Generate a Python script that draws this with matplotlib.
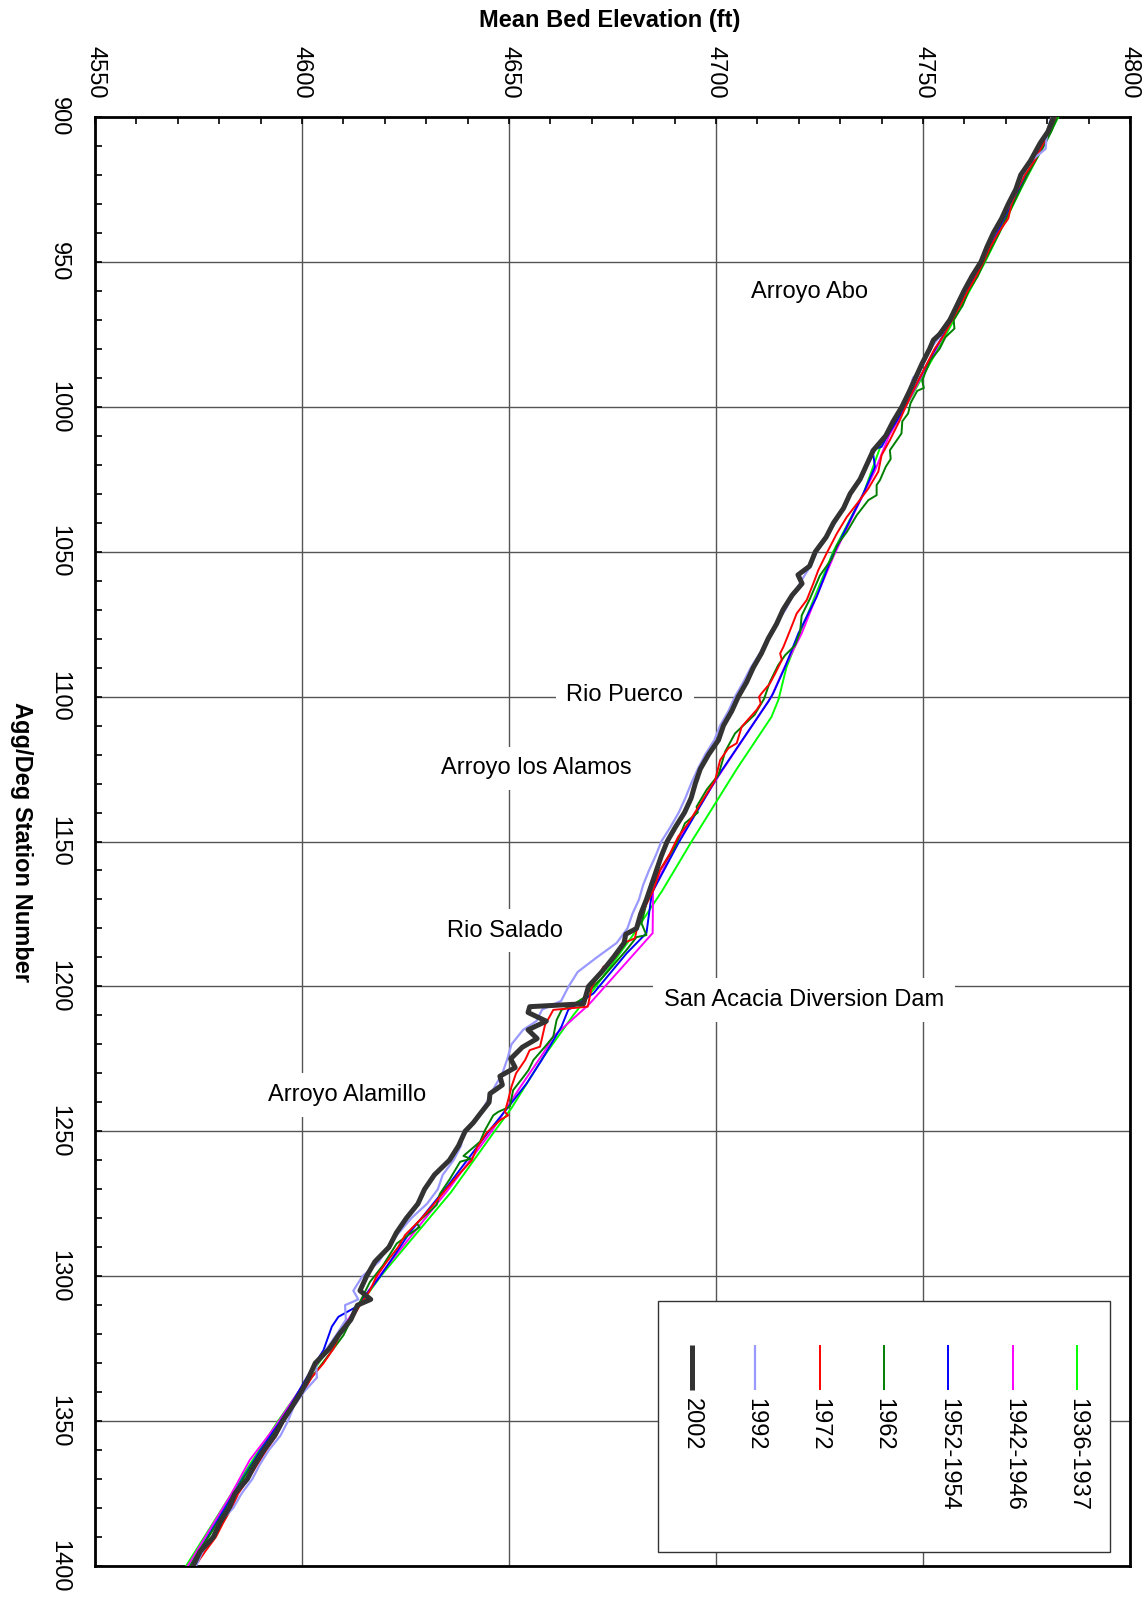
import matplotlib
matplotlib.use("Agg")
import matplotlib.pyplot as plt
from matplotlib.ticker import MultipleLocator
from matplotlib.patches import Rectangle

plt.rcParams['font.family'] = ['Liberation Sans', 'DejaVu Sans']

# ---------------- data ----------------
sta_2002 = [900, 905, 909, 915, 920, 925, 930, 935, 940, 945, 950, 955, 960, 965, 970, 975, 977, 980, 985, 990,
            995, 1000, 1005, 1010, 1015, 1020, 1025, 1030, 1035, 1040, 1045, 1050, 1055, 1058, 1061, 1065, 1070,
            1075, 1080, 1085, 1090, 1095, 1100, 1105, 1110, 1115, 1120, 1125, 1130, 1135, 1140, 1145, 1150, 1155,
            1160, 1165, 1170, 1175, 1180, 1182, 1185, 1190, 1195, 1200, 1203, 1206, 1207, 1209, 1212, 1215, 1218,
            1221, 1225, 1228, 1231, 1234, 1237, 1240, 1244, 1247, 1250, 1255, 1260, 1265, 1270, 1275, 1280, 1285,
            1290, 1295, 1300, 1305, 1308, 1310, 1315, 1320, 1325, 1330, 1335, 1340, 1345, 1350, 1355, 1360, 1365,
            1370, 1375, 1380, 1385, 1390, 1395, 1400]
elev_2002 = [4781.5, 4780.2, 4778.3, 4776.0, 4773.6, 4772.4, 4770.6, 4769.0, 4767.0, 4765.4, 4764.0, 4761.8,
             4759.9, 4758.2, 4756.5, 4754.0, 4752.5, 4751.6, 4749.8, 4748.2, 4746.6, 4744.9, 4742.8, 4741.0,
             4738.0, 4736.4, 4734.8, 4732.4, 4730.8, 4728.4, 4726.6, 4724.0, 4722.6, 4719.8, 4720.8, 4718.4,
             4716.2, 4714.6, 4712.6, 4711.0, 4709.0, 4707.4, 4705.4, 4703.8, 4701.8, 4700.6, 4698.2, 4696.2,
             4695.0, 4694.0, 4692.4, 4690.2, 4688.2, 4686.8, 4685.6, 4684.4, 4683.2, 4681.8, 4680.8, 4678.2,
             4677.8, 4675.2, 4672.4, 4669.2, 4668.6, 4668.0, 4655.0, 4654.6, 4659.0, 4654.6, 4656.8, 4653.2,
             4650.4, 4651.5, 4647.8, 4648.4, 4645.4, 4645.2, 4643.0, 4641.4, 4639.4, 4637.8, 4635.6, 4632.0,
             4629.6, 4628.0, 4625.2, 4622.8, 4621.0, 4617.6, 4615.6, 4614.0, 4616.6, 4613.4, 4611.8, 4609.0,
             4606.6, 4603.2, 4601.6, 4599.8, 4597.6, 4595.3, 4593.4, 4590.8, 4588.6, 4586.8, 4583.8, 4582.4,
             4580.2, 4578.6, 4575.4, 4573.7]

sta_1992 = [900, 905, 911, 915, 920, 925, 930, 935, 940, 945, 950, 955, 960, 965, 970, 975, 980, 985, 988, 990,
            995, 1000, 1005, 1010, 1015, 1020, 1025, 1030, 1035, 1040, 1045, 1050, 1055, 1060, 1065, 1070, 1075,
            1080, 1085, 1090, 1095, 1100, 1105, 1110, 1115, 1120, 1125, 1130, 1135, 1140, 1145, 1150, 1155, 1160,
            1165, 1170, 1175, 1180, 1185, 1190, 1195, 1200, 1205, 1208, 1212, 1215, 1220, 1225, 1230, 1235, 1240,
            1245, 1250, 1255, 1260, 1265, 1270, 1275, 1280, 1285, 1290, 1295, 1300, 1305, 1308, 1310, 1315, 1320,
            1325, 1330, 1335, 1340, 1345, 1350, 1355, 1360, 1365, 1370, 1375, 1380, 1385, 1390, 1395, 1400]
elev_1992 = [4781.0, 4780.0, 4779.6, 4776.2, 4774.0, 4772.6, 4771.0, 4769.2, 4767.4, 4765.6, 4764.2, 4762.0,
             4760.2, 4758.4, 4756.6, 4754.4, 4751.8, 4750.2, 4749.0, 4747.6, 4746.6, 4745.0, 4742.6, 4741.2,
             4738.4, 4736.6, 4735.0, 4732.6, 4730.6, 4728.8, 4726.6, 4724.4, 4722.8, 4720.6, 4718.6, 4716.8,
             4714.4, 4712.4, 4710.6, 4708.4, 4706.6, 4704.6, 4703.0, 4701.0, 4699.6, 4697.4, 4695.6, 4694.0,
             4692.6, 4691.0, 4689.0, 4686.8, 4685.4, 4683.8, 4682.4, 4681.4, 4679.8, 4678.6, 4676.0, 4671.2,
             4666.6, 4664.4, 4662.6, 4658.0, 4656.6, 4653.4, 4650.6, 4649.6, 4648.4, 4646.4, 4644.6, 4642.6,
             4639.0, 4638.4, 4636.6, 4634.0, 4632.8, 4630.2, 4626.4, 4623.4, 4620.6, 4618.6, 4614.6, 4612.4,
             4613.6, 4610.4, 4610.6, 4608.4, 4606.0, 4603.4, 4603.6, 4600.4, 4598.0, 4596.6, 4594.8, 4592.0,
             4589.8, 4588.0, 4585.4, 4583.4, 4580.0, 4578.2, 4576.0, 4574.4]

sta_1972 = [900, 910, 915, 920, 925, 930, 935, 940, 945, 950, 955, 960, 965, 970, 975, 980, 985, 990, 995, 1000,
            1004.6, 1011.5, 1016.7, 1022.4, 1028.2, 1032.8, 1038, 1043.7, 1050.6, 1056.4, 1061, 1066.7, 1071.3,
            1077.1, 1082.8, 1085.1, 1087.4, 1092, 1095.5, 1098.9, 1100.1, 1102.4, 1104.6, 1110.4, 1116.1, 1117.8,
            1121.9, 1128.8, 1133.4, 1139.1, 1143.7, 1148.3, 1154.1, 1159.8, 1166.7, 1172.5, 1178.2, 1183.4,
            1185.1, 1188.6, 1192, 1193.2, 1196.6, 1200, 1205.8, 1207, 1208.1, 1213.3, 1220.8, 1222, 1225.4, 1230,
            1234.6, 1239.2, 1243.3, 1244.5, 1246, 1250.5, 1255.8, 1260, 1265, 1270, 1275.4, 1280, 1285.8, 1290,
            1295, 1300, 1305, 1310, 1315, 1320, 1325, 1330, 1335, 1340, 1345, 1350, 1355, 1360, 1365, 1370, 1375,
            1380, 1385, 1390, 1395, 1400]
elev_1972 = [4782.0, 4778.8, 4777.0, 4774.6, 4772.8, 4771.4, 4770.6, 4768.2, 4766.2, 4764.6, 4762.8, 4760.8,
             4759.0, 4757.0, 4755.2, 4752.8, 4751.0, 4749.2, 4747.4, 4745.8, 4744.4, 4742.0, 4740.0, 4739.2,
             4736.8, 4734.4, 4731.6, 4729.2, 4726.7, 4724.7, 4723.5, 4721.9, 4719.5, 4717.9, 4716.3, 4715.5,
             4715.9, 4714.3, 4713.0, 4711.0, 4710.4, 4710.8, 4709.8, 4706.2, 4705.0, 4703.0, 4701.0, 4699.8,
             4697.8, 4695.3, 4693.3, 4690.9, 4688.9, 4686.5, 4684.9, 4682.9, 4681.2, 4680.4, 4677.6, 4676.4,
             4674.4, 4672.8, 4671.6, 4670.0, 4669.2, 4669.0, 4660.7, 4658.7, 4657.5, 4655.0, 4653.9, 4651.7,
             4650.6, 4649.8, 4649.0, 4649.8, 4648.0, 4644.6, 4642.2, 4641.0, 4637.8, 4634.8, 4631.7, 4628.9,
             4624.9, 4623.2, 4620.5, 4618.0, 4616.4, 4614.0, 4612.0, 4609.2, 4607.6, 4605.2, 4602.3, 4600.3,
             4597.9, 4595.6, 4593.8, 4591.4, 4589.2, 4587.0, 4584.6, 4583.0, 4581.0, 4579.2, 4576.6, 4574.2]

sta_1962 = [900, 905, 910, 920, 930, 940, 950, 955, 960, 965, 970, 973, 976, 980, 984, 988, 991, 993.5, 994.5,
            998.7, 1002.3, 1005, 1009.2, 1015, 1018, 1020.7, 1025.3, 1027, 1030.5, 1032.2, 1037.4, 1043.2, 1047.8,
            1052.4, 1058.2, 1066.2, 1072, 1077.7, 1082.3, 1085.7, 1089.2, 1095, 1100.8, 1106.3, 1112.7, 1119,
            1127, 1132, 1138, 1140, 1143.7, 1151.8, 1159.8, 1168.5, 1178.2, 1182.3, 1183, 1187.4, 1192, 1196.6,
            1200, 1204, 1207, 1208.1, 1211.6, 1217.3, 1220.8, 1225.4, 1228.9, 1231.2, 1235.8, 1241.5, 1243.3,
            1244.5, 1249.6, 1253.6, 1258.5, 1259.5, 1260.5, 1266.5, 1271.6, 1275.4, 1281.8, 1283, 1288.7, 1296.2,
            1302, 1308.9, 1314.7, 1320.4, 1327.3, 1334.2, 1342.2, 1349.1, 1355, 1360, 1365, 1370, 1375, 1380,
            1385, 1390, 1395, 1400]
elev_1962 = [4782.5, 4781.0, 4779.2, 4775.2, 4771.8, 4768.4, 4764.8, 4763.2, 4761.0, 4759.6, 4757.4, 4757.6,
             4755.4, 4754.0, 4751.8, 4750.6, 4749.8, 4750.2, 4748.6, 4747.0, 4746.4, 4745.0, 4744.8, 4742.0,
             4742.2, 4741.0, 4739.6, 4738.8, 4738.8, 4736.8, 4734.0, 4731.6, 4729.2, 4728.0, 4725.1, 4722.7,
             4720.7, 4720.3, 4719.1, 4716.7, 4715.0, 4713.0, 4711.6, 4709.3, 4704.6, 4702.2, 4700.6, 4697.8,
             4695.3, 4695.6, 4692.5, 4690.1, 4686.5, 4683.7, 4682.0, 4683.2, 4680.8, 4678.4, 4675.6, 4672.8,
             4670.4, 4668.0, 4664.7, 4662.7, 4661.5, 4660.7, 4658.7, 4655.9, 4654.7, 4653.5, 4651.0, 4650.2,
             4647.4, 4646.2, 4644.2, 4643.0, 4639.0, 4640.8, 4638.2, 4635.7, 4633.3, 4632.5, 4627.7, 4628.4,
             4622.9, 4619.6, 4616.4, 4614.0, 4612.0, 4610.0, 4606.4, 4602.7, 4598.7, 4595.5, 4592.8, 4590.4,
             4588.0, 4585.8, 4583.6, 4581.8, 4579.6, 4577.4, 4575.0, 4573.0]

sta_1952 = [900, 910, 920, 930, 940, 950, 960, 970, 980, 990, 1000, 1005, 1010, 1013.8, 1014.9, 1016.7, 1020.7,
            1029.9, 1041.4, 1051.8, 1065.6, 1078.2, 1089.7, 1098.9, 1101.8, 1128, 1150.6, 1167.8, 1181.6, 1188.6,
            1202.4, 1208.1, 1213.8, 1225.4, 1233.4, 1241.5, 1249.5, 1267.9, 1285, 1300.2, 1310.5, 1314, 1317.4,
            1325.5, 1331.2, 1337, 1345, 1350, 1360, 1370, 1380, 1390, 1400]
elev_1952 = [4782.2, 4778.8, 4775.0, 4771.4, 4767.8, 4764.4, 4760.6, 4757.0, 4753.0, 4749.2, 4745.6, 4743.6,
             4741.4, 4740.0, 4737.6, 4738.0, 4738.4, 4735.6, 4731.6, 4728.0, 4724.3, 4719.9, 4716.7, 4713.8,
             4712.6, 4700.2, 4690.9, 4684.5, 4683.2, 4678.4, 4670.4, 4664.3, 4662.7, 4657.9, 4654.3, 4649.9,
             4645.4, 4635.7, 4626.0, 4618.8, 4613.2, 4608.8, 4607.2, 4605.2, 4602.7, 4600.3, 4597.1, 4594.8,
             4590.0, 4585.6, 4581.4, 4577.2, 4573.0]

sta_1942 = [900, 910, 920, 930, 940, 950, 960, 970, 980, 990, 1000, 1010, 1022, 1036, 1050.6, 1066.7, 1078.2,
            1089.7, 1100, 1127, 1150.6, 1166.7, 1181.6, 1206.4, 1217.3, 1223, 1235, 1250, 1270, 1300, 1320, 1335,
            1352, 1363.4, 1376, 1400]
elev_1942 = [4782.4, 4778.8, 4775.2, 4771.6, 4767.8, 4764.6, 4760.8, 4757.0, 4753.2, 4749.4, 4745.8, 4741.8,
             4738.4, 4733.6, 4728.7, 4723.9, 4720.7, 4716.6, 4713.4, 4700.8, 4690.4, 4684.8, 4684.7, 4669.2,
             4660.7, 4658.3, 4652.6, 4645.8, 4635.4, 4618.6, 4608.6, 4601.4, 4593.5, 4587.4, 4582.6, 4572.4]

sta_1936 = [900, 925, 950, 975, 1000, 1012.6, 1030, 1050, 1078, 1090, 1101, 1107, 1125, 1150, 1167, 1183, 1200,
            1210, 1225, 1242, 1250, 1271, 1300, 1321, 1336, 1350, 1365, 1400]
elev_1936 = [4782.7, 4773.6, 4765.0, 4755.6, 4745.8, 4740.0, 4735.6, 4728.3, 4720.3, 4717.0, 4715.1, 4713.4,
             4705.0, 4694.1, 4687.0, 4679.6, 4671.0, 4665.5, 4658.0, 4650.6, 4646.5, 4636.0, 4619.0, 4608.4,
             4601.1, 4594.2, 4587.4, 4572.0]

series = [
    ("2002", sta_2002, elev_2002, "#333333", 3.6),
    ("1992", sta_1992, elev_1992, "#9999ff", 1.6),
    ("1972", sta_1972, elev_1972, "#ff0000", 1.4),
    ("1962", sta_1962, elev_1962, "#008000", 1.4),
    ("1952-1954", sta_1952, elev_1952, "#0000ff", 1.4),
    ("1942-1946", sta_1942, elev_1942, "#ff00ff", 1.4),
    ("1936-1937", sta_1936, elev_1936, "#00ff00", 1.4),
]

annot_text = ["Arroyo Abo", "Rio Puerco", "Arroyo los Alamos", "Rio Salado",
              "San Acacia Diversion Dam", "Arroyo Alamillo"]
annot_elev = [4722.5, 4678.0, 4656.5, 4649.0, 4721.3, 4610.9]
annot_sta = [960.4, 1099.6, 1124.8, 1180.8, 1204.7, 1237.5]

x_ticks = [4550, 4600, 4650, 4700, 4750, 4800]
y_ticks = [900, 950, 1000, 1050, 1100, 1150, 1200, 1250, 1300, 1350, 1400]

# ---------------- figure ----------------
W, H = 1147, 1600
fig = plt.figure(figsize=(W / 100, H / 100), dpi=100)
ax = fig.add_axes([95 / W, 1 - 1566 / H, 1035 / W, 1449 / H])

ax.set_xlim(4550, 4800)
ax.set_ylim(1400, 900)
ax.set_xticks(x_ticks)
ax.set_yticks(y_ticks)
ax.xaxis.set_minor_locator(MultipleLocator(10))
ax.yaxis.set_minor_locator(MultipleLocator(10))
ax.xaxis.tick_top()
ax.tick_params(axis='x', which='both', top=True, bottom=False, labeltop=True, labelbottom=False,
               direction='in', length=5, width=1.2, labelsize=17, pad=13)
ax.tick_params(axis='y', which='both', left=True, right=False, direction='in', length=5, width=1.2,
               labelsize=17, pad=18)
for lab in ax.get_xticklabels():
    lab.set_rotation(-90)
    lab.set_ha('center')
    lab.set_va('bottom')
for lab in ax.get_yticklabels():
    lab.set_rotation(-90)
    lab.set_ha('right')
    lab.set_va('center')

ax.grid(True, which='major', color='#555555', linewidth=1.0, zorder=1)
ax.set_axisbelow(True)
for sp in ax.spines.values():
    sp.set_linewidth(2.0)
    sp.set_color('black')

# draw older first so 2002 ends on top
z = 10
for name, s, e, c, lw in reversed(series):
    ax.plot(e, s, color=c, linewidth=lw, zorder=z, solid_joinstyle='round')
    z += 1

for t, xe, ys in zip(annot_text, annot_elev, annot_sta):
    ax.text(xe, ys, t, ha='center', va='center', fontsize=17, zorder=5,
            bbox=dict(boxstyle='square,pad=0.45', facecolor='white', edgecolor='none'))

# legend (drawn in axes coordinates)
box = Rectangle((0.544, 0.0097), 0.981 - 0.544, 0.183 - 0.0097, transform=ax.transAxes,
                facecolor='white', edgecolor='#333333', linewidth=1.0, zorder=30)
ax.add_patch(box)
leg_x = [0.577, 0.638, 0.700, 0.762, 0.824, 0.887, 0.949]
for (name, s, e, c, lw), lx in zip(series, leg_x):
    ax.plot([lx, lx], [0.1215, 0.1525], transform=ax.transAxes, color=c, linewidth=lw,
            zorder=31, clip_on=False, solid_capstyle='butt')
    ax.text(lx, 0.116, name, transform=ax.transAxes, rotation=-90, ha='center', va='top',
            fontsize=17, zorder=32)

fig.text(610 / W, 1 - 20.5 / H, "Mean Bed Elevation (ft)", ha='center', va='center',
         fontsize=17, fontweight='bold')
fig.text(21 / W, 1 - 842 / H, "Agg/Deg Station Number", ha='center', va='center',
         rotation=-90, fontsize=17, fontweight='bold')

fig.savefig("out.png", dpi=100)
